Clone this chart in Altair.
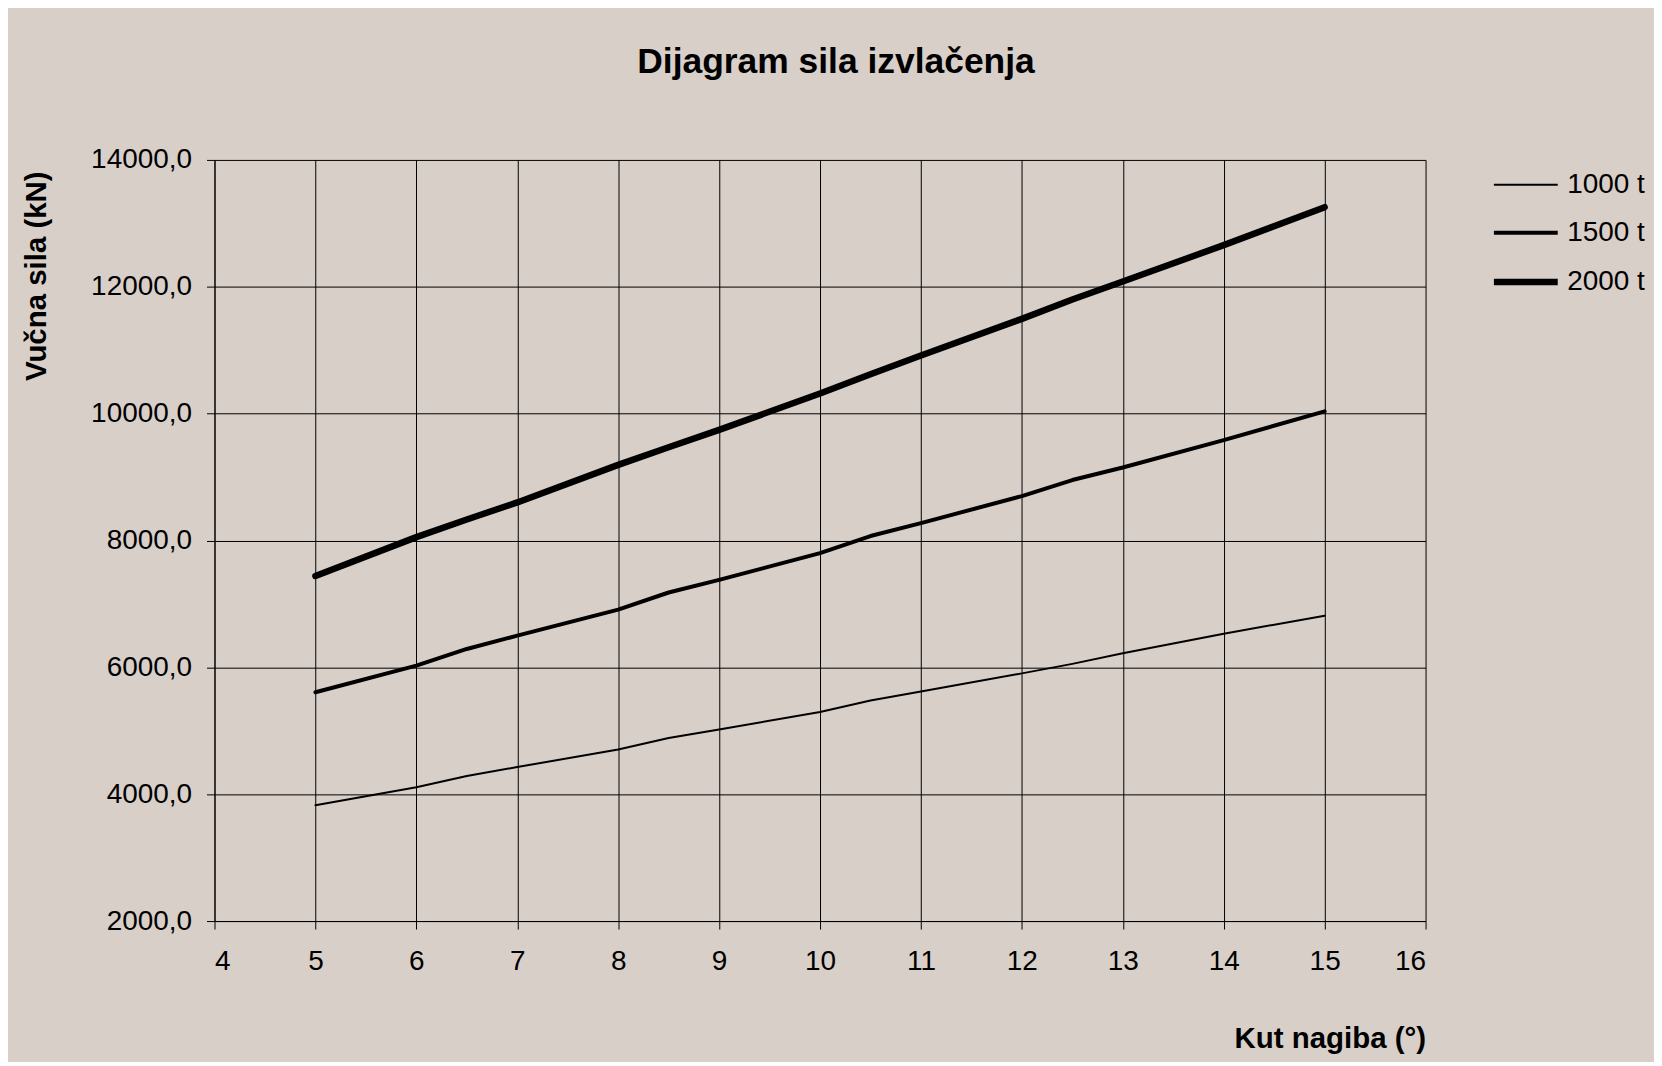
import altair as alt
import pandas as pd

# Data
angles = [5, 6, 6.5, 7, 8, 8.5, 9, 10, 10.5, 11, 12, 12.5, 13, 14, 15]
force_1000 = [3825, 4110, 4288, 4428, 4705, 4885, 5020, 5295, 5478, 5620, 5905, 6055, 6222, 6530, 6815]
force_1500 = [5607, 6026, 6290, 6500, 6909, 7180, 7380, 7800, 8070, 8274, 8700, 8953, 9150, 9583, 10035]
force_2000 = [7440, 8053, 8330, 8600, 9192, 9470, 9744, 10317, 10620, 10916, 11494, 11800, 12083, 12656, 13255]
series_names = ["1000 t", "1500 t", "2000 t"]
line_widths = [2, 4, 6.5]
x_ticks = list(range(4, 17))
y_ticks = list(range(2000, 14001, 2000))

rows = []
for name, vals in zip(series_names, [force_1000, force_1500, force_2000]):
    for a, v in zip(angles, vals):
        rows.append({"kut": a, "sila": v, "serija": name})
df = pd.DataFrame(rows)

BG = "#D8CFC9"
FONT = "Liberation Sans"
W = 1214

chart = alt.Chart(df).mark_line(color="black", strokeCap="round", strokeJoin="round").encode(
    x=alt.X("kut:Q",
            scale=alt.Scale(domain=[4, 16], nice=False),
            axis=alt.Axis(values=x_ticks, title="Kut nagiba (°)", format="d",
                          titleAnchor="end", titleAlign="right", titleBaseline="alphabetic",
                          titleY=127, titleX=W)),
    y=alt.Y("sila:Q",
            scale=alt.Scale(domain=[2000, 14000], nice=False, zero=False),
            axis=alt.Axis(values=y_ticks, title="Vučna sila (kN)",
                          labelExpr="replace(format(datum.value, '.1f'), '.', ',')",
                          titleAngle=-90, titleAlign="right", titleBaseline="middle",
                          titleX=-178, titleY=11, labelPadding=15)),
    strokeWidth=alt.StrokeWidth("serija:N",
                                scale=alt.Scale(type="ordinal", domain=series_names, range=line_widths),
                                legend=alt.Legend(title=None, orient="none", legendX=1279, legendY=-8,
                                                  symbolType="stroke", symbolSize=4096,
                                                  symbolStrokeColor="black", labelOffset=6,
                                                  rowPadding=0, padding=0,
                                                  labelFontSize=28, labelFont=FONT,
                                                  labelColor="black")),
    detail="serija:N",
).properties(
    width=W,
    height=763,
    background=BG,
    autosize=alt.AutoSizeParams(type="none"),
    padding={"left": 207, "top": 151, "right": 229, "bottom": 140},
    title=alt.TitleParams(text="Dijagram sila izvlačenja", font=FONT, fontSize=35.5,
                          fontWeight="bold", color="black", anchor="middle",
                          frame="group", dx=16, offset=66),
).configure_view(
    strokeWidth=0
).configure_axis(
    grid=True,
    gridColor="black",
    gridOpacity=1,
    gridWidth=1,
    domainColor="black",
    domainWidth=1,
    tickColor="black",
    tickSize=8,
    tickWidth=1,
    labelFont=FONT,
    labelFontSize=28,
    labelColor="black",
    titleFont=FONT,
    titleFontSize=29.5,
    titleFontWeight="bold",
    titleColor="black",
).configure_axisX(
    labelPadding=19
)

chart.save("out.html", embed_options={"renderer": "svg", "actions": False})
